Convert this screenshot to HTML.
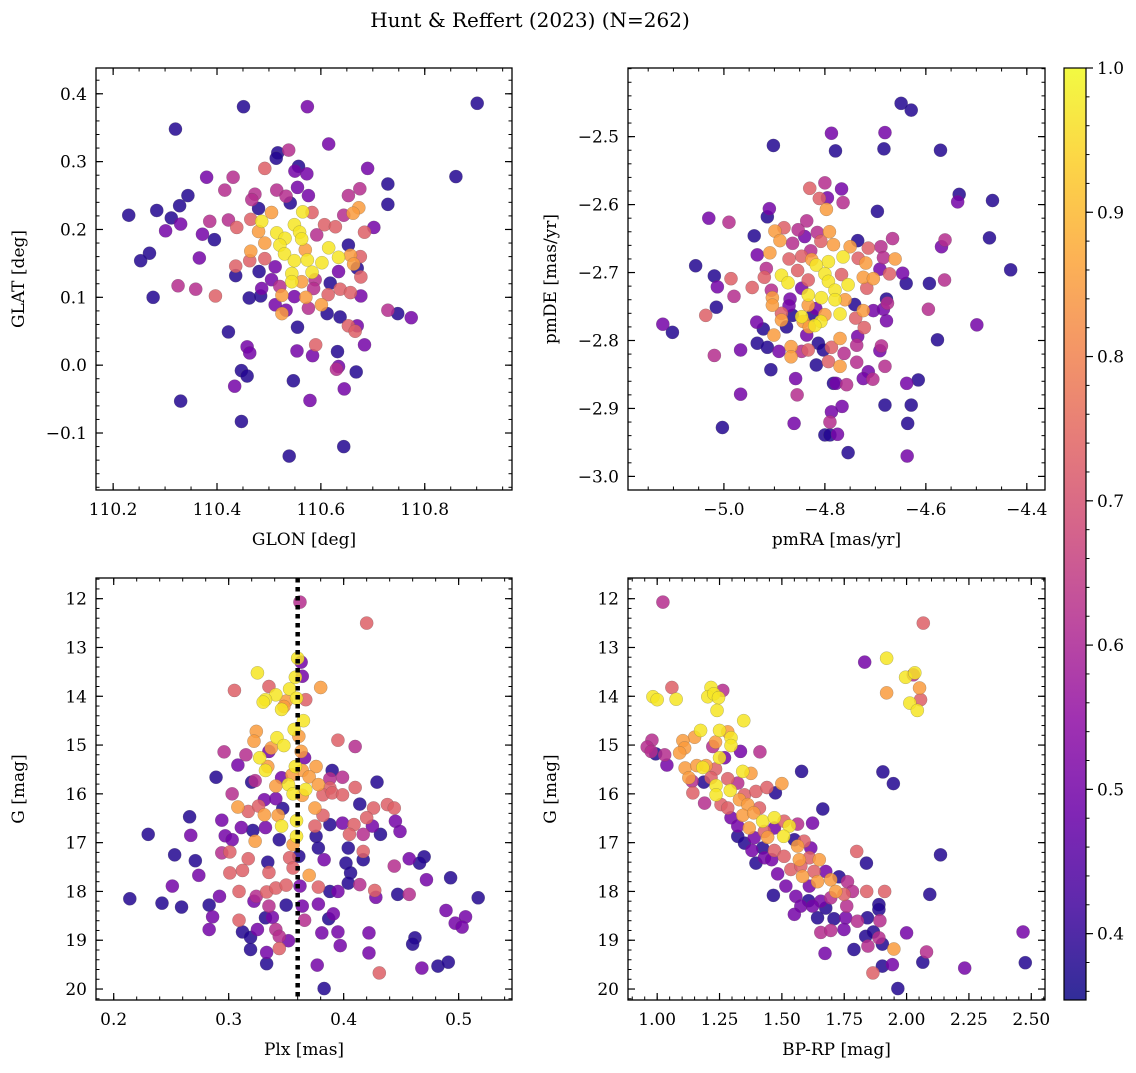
<!DOCTYPE html>
<html><head><meta charset="utf-8"><style>
html,body{margin:0;padding:0;background:#fff;}
svg text{font-family:"DejaVu Serif","Liberation Serif",serif;fill:#000;}
</style></head><body>
<svg id="fig" xmlns="http://www.w3.org/2000/svg" width="1136" height="1068" viewBox="0 0 1136 1068">
<rect width="1136" height="1068" fill="#fff"/>
<text x="530" y="27" font-size="20" text-anchor="middle">Hunt &amp; Reffert (2023) (N=262)</text>
</svg>
<script>
const b=0.38,p=0.5,m=0.62,s=0.73,o=0.85,y=0.97;
const skyPoints=[[110.451,0.381,b],[110.574,0.381,p],[110.901,0.386,b],[110.320,0.348,b],[110.615,0.326,p],[110.538,0.317,m],[110.517,0.313,b],[110.514,0.305,b],[110.492,0.290,s],[110.557,0.293,b],[110.550,0.286,p],[110.573,0.282,p],[110.690,0.290,p],[110.860,0.278,b],[110.380,0.277,p],[110.431,0.277,m],[110.729,0.267,b],[110.415,0.258,m],[110.515,0.258,m],[110.555,0.262,p],[110.675,0.260,m],[110.344,0.250,b],[110.473,0.252,m],[110.467,0.244,m],[110.533,0.249,m],[110.576,0.250,p],[110.653,0.250,m],[110.729,0.237,b],[110.541,0.239,b],[110.328,0.235,b],[110.480,0.231,b],[110.673,0.232,o],[110.284,0.228,b],[110.230,0.221,b],[110.312,0.217,b],[110.422,0.214,m],[110.386,0.212,m],[110.465,0.215,s],[110.505,0.225,o],[110.565,0.226,y],[110.583,0.225,s],[110.644,0.221,m],[110.662,0.224,o],[110.330,0.208,p],[110.301,0.198,p],[110.438,0.203,s],[110.486,0.212,y],[110.549,0.207,y],[110.607,0.207,s],[110.628,0.204,s],[110.702,0.203,p],[110.372,0.193,p],[110.395,0.185,b],[110.480,0.197,o],[110.515,0.195,y],[110.559,0.196,y],[110.531,0.187,y],[110.592,0.192,m],[110.684,0.196,s],[110.563,0.186,y],[110.492,0.180,o],[110.521,0.177,y],[110.615,0.173,y],[110.653,0.177,b],[110.270,0.165,b],[110.253,0.154,b],[110.366,0.158,p],[110.465,0.168,o],[110.530,0.164,y],[110.570,0.170,o],[110.634,0.159,y],[110.657,0.162,o],[110.676,0.160,s],[110.463,0.154,s],[110.492,0.157,s],[110.549,0.154,y],[110.574,0.155,y],[110.602,0.151,y],[110.663,0.149,o],[110.436,0.146,s],[110.512,0.145,p],[110.481,0.138,b],[110.544,0.135,y],[110.583,0.137,y],[110.634,0.138,p],[110.670,0.143,b],[110.677,0.130,s],[110.436,0.132,b],[110.505,0.126,p],[110.544,0.123,y],[110.563,0.123,o],[110.589,0.126,m],[110.618,0.121,b],[110.325,0.117,m],[110.359,0.112,m],[110.486,0.113,p],[110.521,0.116,m],[110.586,0.113,m],[110.637,0.112,s],[110.657,0.107,s],[110.277,0.100,b],[110.397,0.102,s],[110.462,0.099,b],[110.484,0.102,b],[110.525,0.103,o],[110.549,0.101,p],[110.571,0.100,o],[110.614,0.104,s],[110.677,0.102,p],[110.512,0.089,p],[110.576,0.084,m],[110.601,0.089,o],[110.525,0.076,o],[110.533,0.081,p],[110.612,0.076,b],[110.637,0.071,b],[110.729,0.081,m],[110.748,0.076,b],[110.774,0.070,p],[110.653,0.058,s],[110.670,0.058,p],[110.666,0.050,s],[110.555,0.056,b],[110.422,0.049,b],[110.590,0.030,s],[110.684,0.030,p],[110.458,0.027,p],[110.463,0.018,p],[110.554,0.021,p],[110.584,0.014,p],[110.632,0.020,b],[110.634,-0.002,p],[110.630,-0.006,m],[110.668,-0.010,b],[110.447,-0.008,b],[110.458,-0.016,b],[110.434,-0.031,p],[110.547,-0.023,b],[110.645,-0.035,p],[110.579,-0.052,p],[110.330,-0.053,b],[110.447,-0.083,b],[110.644,-0.120,b],[110.539,-0.134,b]];
const pmPoints=[[-4.649,-2.451,b],[-4.629,-2.461,b],[-4.787,-2.495,p],[-4.681,-2.494,p],[-4.902,-2.513,b],[-4.779,-2.521,b],[-4.683,-2.518,b],[-4.571,-2.520,b],[-4.830,-2.576,s],[-4.800,-2.568,m],[-4.767,-2.577,p],[-4.811,-2.591,s],[-4.795,-2.590,p],[-4.764,-2.597,m],[-4.797,-2.607,o],[-4.534,-2.585,b],[-4.537,-2.596,p],[-4.468,-2.594,b],[-4.910,-2.606,p],[-4.914,-2.618,b],[-4.696,-2.610,b],[-5.030,-2.620,p],[-4.990,-2.626,m],[-4.836,-2.624,m],[-4.940,-2.646,b],[-4.899,-2.639,o],[-4.881,-2.634,s],[-4.853,-2.637,m],[-4.840,-2.647,p],[-4.815,-2.641,m],[-4.791,-2.640,o],[-4.889,-2.653,o],[-4.864,-2.657,m],[-4.808,-2.654,s],[-4.783,-2.659,o],[-4.735,-2.653,b],[-4.750,-2.662,o],[-4.714,-2.664,s],[-4.689,-2.662,m],[-4.666,-2.650,m],[-4.474,-2.649,b],[-4.562,-2.652,m],[-4.569,-2.662,p],[-4.934,-2.674,p],[-4.909,-2.671,o],[-4.828,-2.668,m],[-4.871,-2.680,s],[-4.846,-2.676,s],[-4.826,-2.681,o],[-4.793,-2.684,y],[-4.764,-2.677,y],[-4.734,-2.679,s],[-4.684,-2.678,m],[-4.661,-2.680,o],[-5.056,-2.690,b],[-4.817,-2.689,y],[-4.719,-2.686,o],[-4.691,-2.695,p],[-4.672,-2.702,s],[-4.646,-2.701,p],[-4.432,-2.696,b],[-4.916,-2.694,m],[-4.854,-2.697,s],[-5.019,-2.705,b],[-4.986,-2.709,s],[-4.920,-2.707,s],[-4.886,-2.704,y],[-4.800,-2.702,y],[-4.767,-2.703,s],[-4.724,-2.707,o],[-4.704,-2.709,o],[-4.563,-2.711,m],[-5.013,-2.721,p],[-4.944,-2.722,s],[-4.873,-2.715,y],[-4.833,-2.711,s],[-4.793,-2.713,y],[-4.754,-2.718,y],[-4.639,-2.716,b],[-4.593,-2.716,b],[-4.906,-2.726,m],[-4.846,-2.723,p],[-4.780,-2.726,y],[-4.717,-2.723,s],[-4.980,-2.735,m],[-4.904,-2.737,o],[-4.869,-2.739,p],[-4.833,-2.733,y],[-4.807,-2.737,y],[-4.780,-2.740,y],[-4.760,-2.740,o],[-4.678,-2.739,b],[-4.904,-2.748,o],[-4.871,-2.749,p],[-4.833,-2.748,o],[-4.818,-2.753,p],[-4.741,-2.747,b],[-4.676,-2.745,m],[-5.015,-2.751,b],[-4.595,-2.754,m],[-4.704,-2.756,p],[-4.684,-2.754,p],[-4.886,-2.760,s],[-4.864,-2.763,b],[-4.846,-2.765,y],[-4.825,-2.763,b],[-4.800,-2.762,o],[-4.770,-2.761,y],[-4.724,-2.756,o],[-5.036,-2.763,s],[-4.886,-2.770,o],[-4.843,-2.772,o],[-4.808,-2.772,y],[-4.739,-2.767,s],[-4.935,-2.773,p],[-4.876,-2.780,b],[-4.831,-2.780,o],[-4.820,-2.778,y],[-4.722,-2.781,s],[-4.678,-2.771,p],[-5.121,-2.776,p],[-5.102,-2.788,b],[-4.922,-2.783,b],[-4.499,-2.777,p],[-4.901,-2.792,o],[-4.836,-2.792,p],[-4.770,-2.797,o],[-4.735,-2.794,p],[-4.577,-2.799,b],[-4.934,-2.804,b],[-4.914,-2.810,b],[-4.891,-2.816,p],[-4.867,-2.809,o],[-4.846,-2.816,m],[-4.833,-2.814,s],[-4.813,-2.804,b],[-4.803,-2.814,b],[-4.787,-2.810,s],[-4.737,-2.807,m],[-4.688,-2.808,m],[-4.691,-2.815,p],[-4.967,-2.814,p],[-5.019,-2.822,m],[-4.867,-2.824,o],[-4.762,-2.819,m],[-4.793,-2.831,s],[-4.817,-2.836,b],[-4.770,-2.838,o],[-4.737,-2.832,m],[-4.681,-2.838,m],[-4.907,-2.843,b],[-4.714,-2.846,p],[-4.724,-2.856,p],[-4.705,-2.857,m],[-4.858,-2.856,p],[-4.783,-2.863,b],[-4.778,-2.863,p],[-4.757,-2.865,m],[-4.638,-2.863,p],[-4.615,-2.858,b],[-4.967,-2.879,p],[-4.855,-2.880,m],[-4.681,-2.895,b],[-4.629,-2.895,b],[-4.766,-2.897,p],[-4.787,-2.905,p],[-4.790,-2.920,m],[-4.861,-2.922,p],[-4.636,-2.922,b],[-5.003,-2.928,b],[-4.800,-2.939,b],[-4.790,-2.939,b],[-4.775,-2.938,p],[-4.754,-2.965,b],[-4.637,-2.970,p]];
const plxPoints=[[.362,12.07,m],[.420,12.50,s],[.360,13.22,y],[.363,13.30,p],[.364,13.59,p],[.325,13.52,y],[.305,13.88,s],[.335,13.80,s],[.380,13.82,o],[.358,13.61,y],[.353,13.85,y],[.341,13.97,y],[.332,14.07,y],[.330,14.12,y],[.350,14.10,o],[.367,14.07,s],[.359,14.04,y],[.346,14.27,y],[.348,14.21,o],[.365,14.50,y],[.324,14.72,o],[.322,14.92,o],[.342,14.85,y],[.348,15.01,y],[.357,14.68,y],[.361,14.82,o],[.337,15.06,o],[.395,14.90,s],[.410,15.03,m],[.296,15.14,m],[.315,15.20,m],[.335,15.13,p],[.363,15.13,o],[.327,15.26,y],[.366,15.26,p],[.308,15.41,p],[.332,15.52,y],[.334,15.44,o],[.358,15.44,y],[.376,15.44,o],[.364,15.52,o],[.390,15.52,b],[.289,15.66,b],[.320,15.76,b],[.323,15.73,m],[.346,15.67,p],[.355,15.61,o],[.370,15.65,o],[.388,15.69,m],[.399,15.66,m],[.429,15.76,b],[.341,15.84,o],[.352,15.81,y],[.367,15.91,y],[.378,15.81,o],[.388,15.88,s],[.410,15.87,s],[.303,16.00,m],[.356,16.00,y],[.364,16.03,o],[.382,16.02,s],[.390,15.98,s],[.399,16.02,s],[.331,16.12,p],[.341,16.10,p],[.308,16.27,o],[.317,16.36,s],[.326,16.25,s],[.347,16.30,b],[.375,16.29,o],[.414,16.21,b],[.426,16.29,s],[.438,16.22,s],[.444,16.29,s],[.266,16.47,b],[.294,16.54,p],[.331,16.43,o],[.343,16.44,o],[.359,16.55,y],[.382,16.44,s],[.420,16.49,s],[.445,16.56,p],[.311,16.69,p],[.321,16.75,b],[.332,16.69,p],[.346,16.66,y],[.375,16.66,s],[.388,16.63,b],[.399,16.60,p],[.409,16.63,s],[.425,16.66,p],[.449,16.77,p],[.230,16.83,b],[.267,16.85,p],[.297,16.86,p],[.303,16.94,p],[.359,16.87,y],[.376,16.87,b],[.405,16.83,s],[.417,16.83,m],[.432,16.83,b],[.323,16.97,o],[.344,16.94,b],[.356,17.04,o],[.378,17.11,b],[.404,17.11,b],[.417,17.18,s],[.294,17.21,m],[.301,17.19,s],[.253,17.25,b],[.271,17.37,b],[.334,17.40,b],[.353,17.31,s],[.361,17.28,b],[.383,17.35,p],[.402,17.42,b],[.417,17.35,b],[.444,17.48,m],[.457,17.33,p],[.470,17.29,b],[.466,17.42,b],[.317,17.33,s],[.274,17.67,p],[.301,17.62,s],[.312,17.57,s],[.335,17.61,s],[.356,17.52,s],[.370,17.67,o],[.406,17.62,b],[.251,17.89,p],[.292,18.10,p],[.309,18.00,s],[.324,18.10,m],[.333,18.01,s],[.341,17.93,s],[.350,17.87,s],[.362,17.89,p],[.378,17.91,s],[.388,18.00,b],[.395,18.00,p],[.404,17.83,b],[.414,17.86,m],[.427,17.98,s],[.428,18.12,p],[.447,18.06,b],[.457,18.06,m],[.472,17.76,p],[.493,17.72,b],[.214,18.15,b],[.517,18.13,b],[.242,18.24,b],[.259,18.32,b],[.283,18.28,b],[.322,18.20,p],[.335,18.30,m],[.350,18.28,b],[.364,18.30,p],[.378,18.26,p],[.286,18.52,p],[.309,18.59,s],[.332,18.54,b],[.338,18.53,p],[.366,18.59,m],[.387,18.56,b],[.391,18.46,p],[.489,18.39,p],[.506,18.52,p],[.497,18.65,p],[.503,18.73,p],[.283,18.78,p],[.312,18.83,b],[.319,18.94,b],[.325,18.78,p],[.341,18.78,m],[.344,18.92,m],[.352,19.01,p],[.381,18.85,p],[.395,18.83,p],[.422,18.85,p],[.462,18.95,b],[.460,19.08,b],[.344,19.17,s],[.319,19.19,b],[.397,19.11,p],[.333,19.25,p],[.422,19.26,p],[.333,19.48,b],[.377,19.51,p],[.431,19.67,s],[.468,19.57,p],[.482,19.53,b],[.491,19.45,b],[.383,19.99,b]];
const cmdPoints=[[1.023,12.07,m],[2.067,12.50,s],[1.832,13.30,p],[1.920,13.22,y],[1.920,13.93,o],[1.996,13.61,y],[2.027,13.56,m],[2.033,13.52,y],[2.052,13.83,o],[2.056,14.07,s],[2.013,14.14,y],[2.043,14.29,y],[0.983,14.01,y],[1.000,14.07,y],[1.059,13.82,s],[1.076,14.06,y],[1.216,13.82,y],[1.263,13.88,m],[1.203,14.01,y],[1.227,13.95,y],[1.246,14.03,y],[1.240,14.29,y],[1.347,14.50,y],[1.174,14.70,y],[1.150,14.84,o],[1.103,14.91,o],[1.110,15.06,o],[1.090,15.16,o],[1.234,14.94,o],[1.250,14.70,y],[1.283,14.73,o],[1.296,14.85,y],[1.296,15.01,y],[0.979,14.90,m],[0.960,15.04,m],[0.976,15.13,m],[0.994,15.18,b],[1.030,15.20,m],[1.039,15.41,p],[1.223,15.03,m],[1.334,15.13,p],[1.412,15.14,m],[1.250,15.26,y],[1.270,15.26,p],[1.112,15.47,o],[1.159,15.42,o],[1.183,15.46,y],[1.196,15.42,o],[1.234,15.49,s],[1.343,15.54,y],[1.376,15.58,o],[1.579,15.54,b],[1.905,15.55,b],[1.947,15.79,b],[1.127,15.67,o],[1.140,15.74,m],[1.187,15.76,b],[1.216,15.67,s],[1.236,15.83,y],[1.283,15.69,s],[1.323,15.78,m],[1.500,15.79,o],[1.143,15.98,s],[1.236,16.02,y],[1.293,15.93,y],[1.350,16.02,s],[1.396,15.95,s],[1.440,15.87,s],[1.474,15.98,b],[1.190,16.19,m],[1.256,16.22,s],[1.283,16.29,s],[1.330,16.12,o],[1.363,16.22,o],[1.410,16.29,s],[1.664,16.31,b],[1.296,16.49,p],[1.343,16.44,o],[1.387,16.39,o],[1.423,16.56,y],[1.470,16.49,y],[1.509,16.56,s],[1.563,16.62,m],[1.623,16.60,p],[1.530,16.66,y],[1.323,16.66,p],[1.369,16.70,o],[1.430,16.77,s],[1.470,16.70,p],[1.323,16.87,b],[1.350,17.01,b],[1.389,16.90,p],[1.443,16.89,o],[1.507,16.87,y],[1.550,16.94,b],[1.589,16.97,s],[1.380,17.16,p],[1.423,17.11,b],[1.470,17.16,s],[1.563,17.07,o],[1.616,17.11,p],[1.800,17.18,s],[2.136,17.25,b],[1.396,17.42,b],[1.430,17.31,p],[1.459,17.35,p],[1.509,17.28,s],[1.570,17.35,o],[1.610,17.31,s],[1.650,17.35,o],[1.839,17.42,b],[1.483,17.64,p],[1.536,17.55,s],[1.583,17.69,o],[1.629,17.59,s],[1.676,17.59,p],[1.729,17.70,b],[1.576,17.48,s],[1.516,17.89,p],[1.610,17.89,p],[1.643,17.80,o],[1.696,17.76,o],[1.716,18.00,o],[1.763,17.80,m],[1.783,18.00,m],[1.466,18.08,b],[1.556,18.10,p],[1.607,18.19,b],[1.656,18.20,p],[1.696,18.13,m],[1.749,18.06,s],[1.840,18.00,s],[1.912,18.00,s],[2.093,18.06,b],[1.576,18.30,p],[1.623,18.30,p],[1.676,18.34,b],[1.760,18.30,m],[1.889,18.27,b],[1.889,18.37,b],[1.550,18.47,p],[1.643,18.54,b],[1.709,18.56,b],[1.756,18.54,p],[1.803,18.61,m],[1.843,18.54,b],[1.893,18.60,m],[1.656,18.84,m],[1.696,18.80,m],[1.749,18.78,p],[1.836,18.92,b],[1.867,18.83,b],[1.889,18.95,m],[1.903,19.08,b],[1.845,19.12,m],[2.000,18.85,p],[2.467,18.83,p],[1.949,19.18,o],[2.080,19.24,m],[1.673,19.27,p],[1.789,19.19,b],[2.065,19.45,b],[2.476,19.46,b],[1.903,19.53,b],[1.943,19.50,p],[2.233,19.57,p],[1.865,19.67,s],[1.965,19.99,b]];
const plxRef=[0.36];
const skyXTicks=[110.2,110.4,110.6,110.8], skyYTicks=[-0.1,0,0.1,0.2,0.3,0.4];
const pmXTicks=[-5.0,-4.8,-4.6,-4.4], pmYTicks=[-3.0,-2.9,-2.8,-2.7,-2.6,-2.5];
const plxXTicks=[0.2,0.3,0.4,0.5], gTicks=[12,13,14,15,16,17,18,19,20];
const cmdXTicks=[1.00,1.25,1.50,1.75,2.00,2.25,2.50];
const cbarTicks=[0.4,0.5,0.6,0.7,0.8,0.9,1.0];
const cbarRange=[0.354,1.0];

const NS='http://www.w3.org/2000/svg';
const svg=document.getElementById('fig');
function el(tag,attrs,parent){const e=document.createElementNS(NS,tag);for(const k in attrs)e.setAttribute(k,attrs[k]);(parent||svg).appendChild(e);return e;}
const stops=['#0d0887','#41049d','#6a00a8','#8f0da4','#b12a90','#cc4778','#e16462','#f2844b','#fca636','#fcce25','#f0f921'];
function hex(h){return [1,3,5].map(i=>parseInt(h.substr(i,2),16));}
function plasma(t){t=Math.max(0,Math.min(1,t));const f=t*10,i=Math.min(9,Math.floor(f)),r=f-i;const a=hex(stops[i]),c=hex(stops[i+1]);return 'rgb('+a.map((v,k)=>Math.round(v+(c[k]-v)*r)).join(',')+')';}
function colorOf(v){return plasma((v-cbarRange[0])/(cbarRange[1]-cbarRange[0]));}
function fmt(v,d){return (v<0?'\u2212':'')+Math.abs(v).toFixed(d);}

function panel(cfg){
  const {name,x0,x1,y0,y1,xd,yd,xt,yt,xdec,ydec,xminor,yminor,xlabel,ylabel,pts,inv}=cfg;
  const sx=v=>x0+(v-xd[0])/(xd[1]-xd[0])*(x1-x0);
  const sy=inv?(v=>y0+(v-yd[0])/(yd[1]-yd[0])*(y1-y0)):(v=>y1-(v-yd[0])/(yd[1]-yd[0])*(y1-y0));
  const g=el('g',{});
  
  
  const sorted=pts.slice().sort((a,c)=>a[2]-c[2]);
  const mk=el('g',{},g);
  
  
  for(const d of sorted){
    const c=el('circle',{cx:sx(d[0]),cy:sy(d[1]),r:6.6,fill:colorOf(d[2]),'fill-opacity':0.85,stroke:'#555','stroke-width':0.35,'stroke-opacity':0.6},mk);
    
    
  }
  if(cfg.ref){
    for(const r of cfg.ref){
      const l=el('line',{x1:sx(r),x2:sx(r),y1:y0,y2:y1,stroke:'#000','stroke-width':4.5,'stroke-dasharray':'4.5,4.5'},g);
      
      
    }
  }
  const fr=el('rect',{x:x0,y:y0,width:x1-x0,height:y1-y0,fill:'none',stroke:'#000','stroke-width':1.3},g);
  
  
  let a=Math.ceil(xd[0]/xminor-1e-6);
  for(let k=a;k*xminor<=xd[1]+1e-9;k++){const X=sx(k*xminor);el('line',{x1:X,x2:X,y1:y1,y2:y1-3.5,stroke:'#000','stroke-width':1},g);el('line',{x1:X,x2:X,y1:y0,y2:y0+3.5,stroke:'#000','stroke-width':1},g);}
  a=Math.ceil(yd[0]/yminor-1e-6);
  for(let k=a;k*yminor<=yd[1]+1e-9;k++){const Y=sy(k*yminor);el('line',{x1:x0,x2:x0+3.5,y1:Y,y2:Y,stroke:'#000','stroke-width':1},g);el('line',{x1:x1,x2:x1-3.5,y1:Y,y2:Y,stroke:'#000','stroke-width':1},g);}
  for(const t of xt){const X=sx(t);el('line',{x1:X,x2:X,y1:y1,y2:y1-7,stroke:'#000','stroke-width':1.2},g);el('line',{x1:X,x2:X,y1:y0,y2:y0+7,stroke:'#000','stroke-width':1.2},g);
    const tx=el('text',{x:X,y:y1+25,'font-size':17,'text-anchor':'middle'},g);tx.textContent=fmt(t,xdec);
    
    }
  for(const t of yt){const Y=sy(t);el('line',{x1:x0,x2:x0+7,y1:Y,y2:Y,stroke:'#000','stroke-width':1.2},g);el('line',{x1:x1,x2:x1-7,y1:Y,y2:Y,stroke:'#000','stroke-width':1.2},g);
    const tx=el('text',{x:x0-9,y:Y+6,'font-size':17,'text-anchor':'end'},g);tx.textContent=fmt(t,ydec);
    
    }
  const xl=el('text',{x:(x0+x1)/2,y:y1+55,'font-size':17,'text-anchor':'middle'},g);xl.textContent=xlabel;
  
  
  const yx=cfg.ylx, yy=(y0+y1)/2;
  const yl=el('text',{x:yx,y:yy,'font-size':17,'text-anchor':'middle',transform:'rotate(-90 '+yx+' '+yy+')'},g);yl.textContent=ylabel;
  
  
}
panel({name:'sky',x0:96,x1:512,y0:68,y1:490,xd:[110.167,110.968],yd:[-0.184,0.438],xt:skyXTicks,yt:skyYTicks,xdec:1,ydec:1,xminor:0.05,yminor:0.02,xlabel:'GLON [deg]',ylabel:'GLAT [deg]',pts:skyPoints,ylx:24});
panel({name:'proper-motion',x0:628,x1:1045,y0:68,y1:490,xd:[-5.190,-4.364],yd:[-3.020,-2.399],xt:pmXTicks,yt:pmYTicks,xdec:1,ydec:1,xminor:0.05,yminor:0.02,xlabel:'pmRA [mas/yr]',ylabel:'pmDE [mas/yr]',pts:pmPoints,ylx:556});
panel({name:'parallax-magnitude',x0:96,x1:512,y0:578,y1:1000,xd:[0.1846,0.5464],yd:[11.576,20.225],inv:true,xt:plxXTicks,yt:gTicks,xdec:1,ydec:0,xminor:0.02,yminor:0.2,xlabel:'Plx [mas]',ylabel:'G [mag]',pts:plxPoints,ref:plxRef,ylx:24});
panel({name:'color-magnitude',x0:628,x1:1045,y0:578,y1:1000,xd:[0.883,2.555],yd:[11.576,20.225],inv:true,xt:cmdXTicks,yt:gTicks,xdec:2,ydec:0,xminor:0.05,yminor:0.2,xlabel:'BP-RP [mag]',ylabel:'G [mag]',pts:cmdPoints,ylx:556});

(function(){
  const cx0=1064,cx1=1086,cy0=68,cy1=1000;
  const defs=el('defs',{});
  const lg=el('linearGradient',{id:'cbg',x1:0,y1:1,x2:0,y2:0},defs);
  for(const [i,c] of stops.entries()) el('stop',{offset:(i/10),'stop-color':c,'stop-opacity':0.85},lg);
  const g=el('g',{});
  
  
  el('rect',{x:cx0,y:cy0,width:cx1-cx0,height:cy1-cy0,fill:'url(#cbg)',stroke:'#000','stroke-width':1.2},g);
  const cy=v=>cy1-(v-cbarRange[0])/(cbarRange[1]-cbarRange[0])*(cy1-cy0);
  for(let k=Math.ceil(cbarRange[0]/0.02);k*0.02<=cbarRange[1]+1e-9;k++){const Y=cy(k*0.02);el('line',{x1:cx1,x2:cx1+3.5,y1:Y,y2:Y,stroke:'#000','stroke-width':1},g);}
  for(const t of cbarTicks){const Y=cy(t);el('line',{x1:cx1,x2:cx1+7,y1:Y,y2:Y,stroke:'#000','stroke-width':1.2},g);
    const tx=el('text',{x:cx1+11,y:Y+6,'font-size':17},g);tx.textContent=t.toFixed(1);
    
    }
})();
</script>
</body></html>
